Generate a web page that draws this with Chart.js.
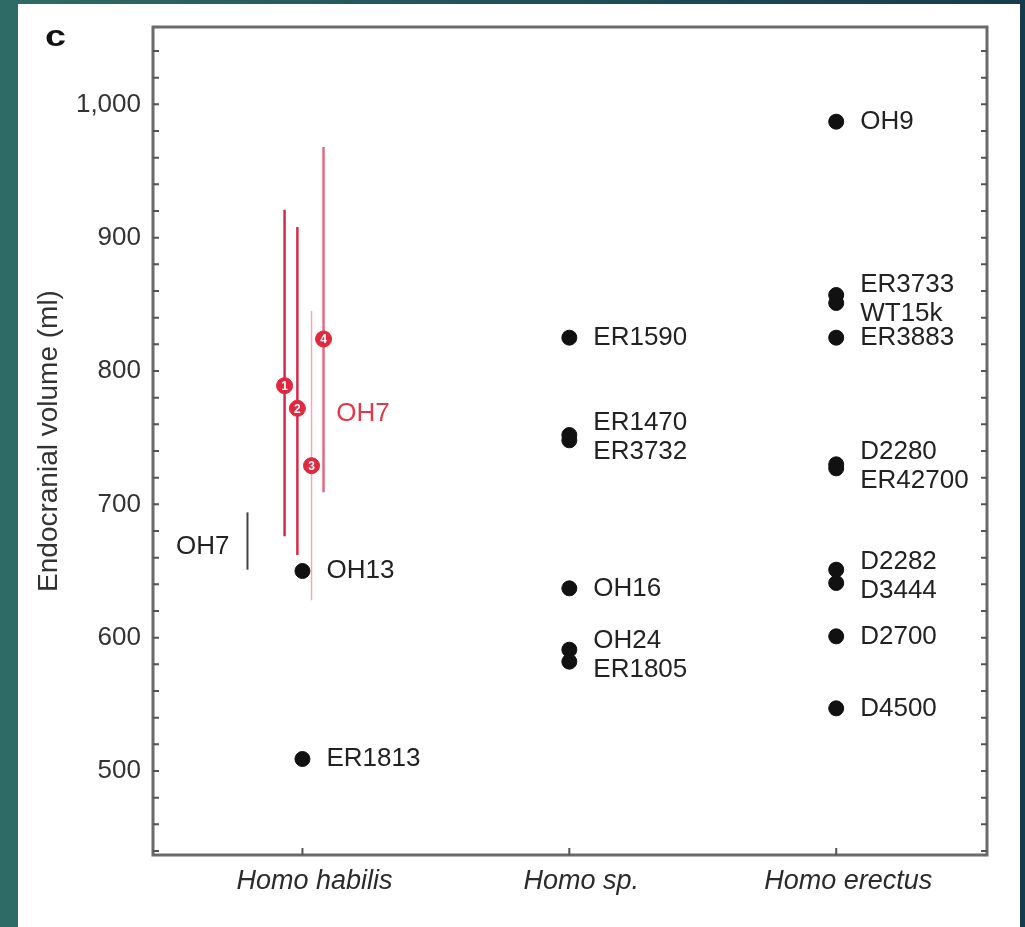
<!DOCTYPE html>
<html>
<head>
<meta charset="utf-8">
<script src="https://cdn.jsdelivr.net/npm/chart.js@4.4.1/dist/chart.umd.min.js"></script>
<style>
  html, body { margin: 0; padding: 0; }
  body {
    width: 1025px; height: 927px; overflow: hidden; position: relative;
    background: linear-gradient(to right, #2f6b66 0%, #1f5158 50%, #163c4b 100%);
  }
  .panel { position: absolute; left: 18px; top: 4px; width: 1002px; height: 923px; background: #fff; }
  canvas { position: absolute; left: 0; top: 0; }
</style>
</head>
<body>
<div class="panel"></div>
<canvas id="myChart" width="1025" height="927"></canvas>
<script>
// categories along x
const categories = ['Homo habilis', 'Homo sp.', 'Homo erectus'];

// specimens, one list per category
const habilisNames = ['OH13', 'ER1813'];
const habilisVol = [650, 509];
const spNames = ['ER1590', 'ER1470', 'ER3732', 'OH16', 'OH24', 'ER1805'];
const spVol = [825, 752, 748, 637, 591, 582];
const erectusNames = ['OH9', 'ER3733', 'WT15k', 'ER3883', 'D2280', 'ER42700', 'D2282', 'D3444', 'D2700', 'D4500'];
const erectusVol = [987, 857, 851, 825, 730, 727, 651, 641, 601, 547];

// new OH7 estimates (red) with their ranges
const oh7Labels = ['1', '2', '3', '4'];
const oh7Est = [789, 772, 729, 824];
const oh7Low = [676, 662, 628, 709];
const oh7High = [921, 908, 845, 968];

// previous OH7 range (black bar)
const oh7OldLow = 651;
const oh7OldHigh = 694;

// y axis ticks
const yTickValues = [500, 600, 700, 800, 900, 1000];

// layout bits (not data)
const oh7Shift = [-0.067, -0.019, 0.034, 0.079];
const oh7Colors = ['#d62a4a', '#d62a4a', '#f3aab4', '#e26c7d'];
const oh7Widths = [2.5, 2.5, 1.5, 2.5];
const oldShift = -0.206;
const FONT = '"Liberation Sans", Arial, Helvetica, sans-serif';

const groups = [
  { x: 1, names: habilisNames, vol: habilisVol },
  { x: 2, names: spNames, vol: spVol },
  { x: 3, names: erectusNames, vol: erectusVol },
];

const fossilPoints = [];
groups.forEach(g => g.vol.forEach(v => fossilPoints.push({ x: g.x, y: v })));

const datasets = [];
datasets.push({
  label: 'OH7 estimates',
  data: oh7Est.map((v, i) => ({ x: 1 + oh7Shift[i], y: v })),
  pointRadius: 8,
  pointBackgroundColor: '#e0283e',
  pointBorderColor: '#e0283e',
  showLine: false,
});
datasets.push({
  label: 'fossils',
  data: fossilPoints,
  pointRadius: 7.5,
  pointBackgroundColor: '#111',
  pointBorderColor: '#111',
  showLine: false,
});
oh7Low.forEach((lo, i) => {
  datasets.push({
    label: 'OH7 range ' + oh7Labels[i],
    data: [{ x: 1 + oh7Shift[i], y: lo }, { x: 1 + oh7Shift[i], y: oh7High[i] }],
    showLine: true,
    borderColor: oh7Colors[i],
    borderWidth: oh7Widths[i],
    pointRadius: 0,
  });
});
datasets.push({
  label: 'OH7 old',
  data: [{ x: 1 + oldShift, y: oh7OldLow }, { x: 1 + oldShift, y: oh7OldHigh }],
  showLine: true,
  borderColor: '#444',
  borderWidth: 2,
  pointRadius: 0,
});

const annotate = {
  id: 'annotate',
  afterDatasetsDraw(chart) {
    const { ctx, chartArea: a, scales } = chart;
    const xs = scales.x, ys = scales.y;
    ctx.save();

    // frame
    ctx.strokeStyle = '#6b6b6b';
    ctx.lineWidth = 3;
    ctx.strokeRect(a.left, a.top, a.right - a.left, a.bottom - a.top);

    // inward ticks, left and right
    ctx.lineWidth = 2;
    ctx.strokeStyle = '#555';
    for (let v = 440; v <= 1040; v += 20) {
      const py = ys.getPixelForValue(v);
      ctx.beginPath();
      ctx.moveTo(a.left, py); ctx.lineTo(a.left + 6, py);
      ctx.moveTo(a.right, py); ctx.lineTo(a.right - 6, py);
      ctx.stroke();
    }
    // x ticks, bottom
    [1, 2, 3].forEach(v => {
      const px = xs.getPixelForValue(v);
      ctx.beginPath();
      ctx.moveTo(px, a.bottom); ctx.lineTo(px, a.bottom - 7);
      ctx.stroke();
    });

    // specimen labels
    ctx.font = '26px ' + FONT;
    ctx.fillStyle = '#222';
    ctx.textBaseline = 'middle';
    ctx.textAlign = 'left';
    groups.forEach(g => {
      const px = xs.getPixelForValue(g.x) + 24;
      const pys = g.vol.map(v => ys.getPixelForValue(v));
      const used = new Array(pys.length).fill(false);
      for (let i = 0; i < pys.length; i++) {
        if (used[i]) continue;
        if (i + 1 < pys.length && Math.abs(pys[i + 1] - pys[i]) < 20) {
          const mid = (pys[i] + pys[i + 1]) / 2;
          ctx.fillText(g.names[i], px, mid - 14.5);
          ctx.fillText(g.names[i + 1], px, mid + 14.5);
          used[i] = used[i + 1] = true;
        } else {
          ctx.fillText(g.names[i], px, pys[i]);
        }
      }
    });

    // numbers inside red circles
    ctx.font = 'bold 12px ' + FONT;
    ctx.fillStyle = '#fff';
    ctx.textAlign = 'center';
    oh7Est.forEach((v, i) => {
      ctx.fillText(oh7Labels[i], xs.getPixelForValue(1 + oh7Shift[i]), ys.getPixelForValue(v) + 1);
    });

    // OH7 names
    ctx.font = '26px ' + FONT;
    ctx.textAlign = 'left';
    ctx.fillStyle = '#e0384a';
    ctx.fillText('OH7', xs.getPixelForValue(1.127), ys.getPixelForValue(768));
    ctx.fillStyle = '#222';
    ctx.textAlign = 'right';
    ctx.fillText('OH7', xs.getPixelForValue(1 + oldShift) - 18, ys.getPixelForValue(668));

    // panel letter, a wide bold "c"
    ctx.translate(45, 38);
    ctx.scale(1.3, 1);
    ctx.font = 'bold 29px ' + FONT;
    ctx.textAlign = 'left';
    ctx.fillStyle = '#111';
    ctx.fillText('c', 0, 0);
    ctx.restore();
  }
};

const config = {
  type: 'scatter',
  data: { datasets },
  options: {
    responsive: false,
    devicePixelRatio: 1,
    animation: false,
    layout: { padding: { top: 27, right: 38, left: 0, bottom: 0 } },
    plugins: { legend: { display: false }, tooltip: { enabled: false } },
    scales: {
      x: {
        type: 'linear',
        min: 0.44,
        max: 3.565,
        afterBuildTicks: s => { s.ticks = [1, 2, 3].map(v => ({ value: v })); },
        afterFit: s => { s.height = 72; },
        grid: { display: false },
        border: { display: false },
        ticks: {
          padding: 2,
          labelOffset: 12,
          color: '#2b2b2b',
          font: { family: FONT, size: 27, style: 'italic' },
          callback: v => categories[v - 1],
        },
      },
      y: {
        min: 437,
        max: 1058,
        afterBuildTicks: s => { s.ticks = yTickValues.map(v => ({ value: v })); },
        afterFit: s => { s.width = 153; },
        grid: { display: false },
        border: { display: false },
        ticks: {
          padding: 4,
          color: '#333',
          font: { family: FONT, size: 26 },
          callback: v => v.toLocaleString('en-US'),
        },
        title: {
          display: true,
          text: 'Endocranial volume (ml)',
          color: '#333',
          font: { family: FONT, size: 28 },
          padding: { top: 32, bottom: 0 },
        },
      },
    },
  },
  plugins: [annotate],
};

const myChart = new Chart(document.getElementById('myChart'), config);
</script>
</body>
</html>
